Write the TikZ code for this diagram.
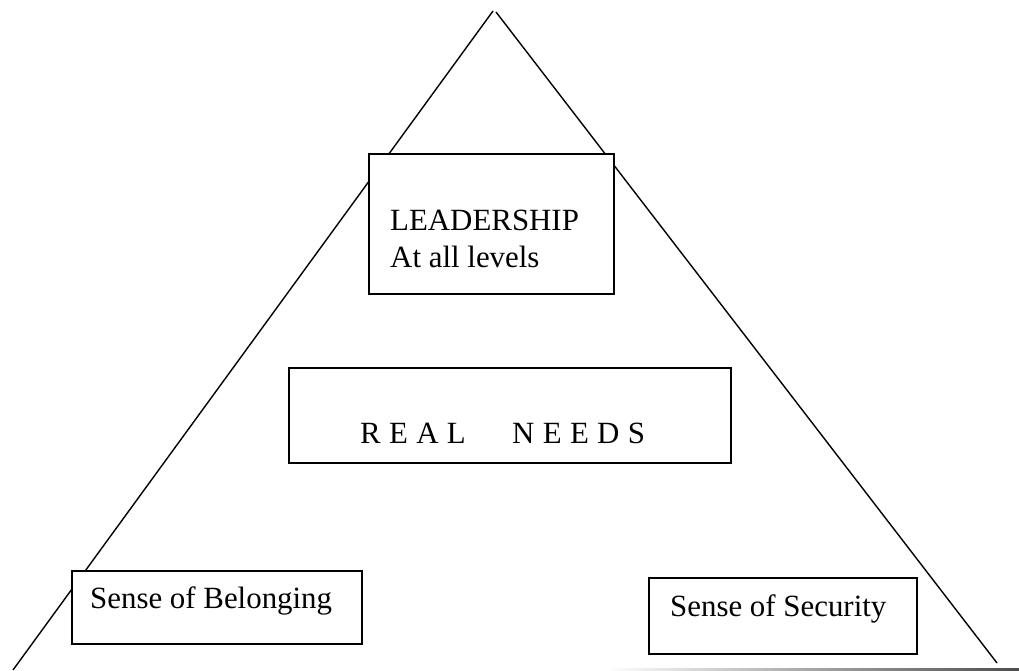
\documentclass[tikz,border=0pt]{standalone}
\usepackage{fontspec}
\setmainfont{Liberation Serif}
\begin{document}
\begin{tikzpicture}[x=1bp,y=-1bp,
  tri/.style={line width=1.4bp},
  box/.style={draw, line width=1.8bp, fill=white, inner sep=0pt},
  lbl/.style={inner sep=0pt, font=\fontsize{31}{37}\selectfont}]
\useasboundingbox (0,0) rectangle (1019,671);
% triangle
\coordinate (apexL) at (493,11);
\coordinate (apexR) at (496,12);
\coordinate (bl) at (13,670);
\coordinate (br) at (997,663);
\draw[tri] (apexL) -- (bl);
\draw[tri] (apexR) -- (br);
\shade[left color=white, right color=black!70] (605,668.5) rectangle (1019,671);
% boxes
\node[box, anchor=north west, minimum width=245bp, minimum height=140bp] (lead) at (368,153) {};
\node[box, anchor=north west, minimum width=442bp, minimum height=95bp] (needs) at (288,367) {};
\node[box, anchor=north west, minimum width=290bp, minimum height=73bp] (belong) at (71,570) {};
\node[box, anchor=north west, minimum width=268bp, minimum height=76bp] (secur) at (648,577) {};
% texts
\node[lbl, anchor=base west] (leadA) at (390,230) {LEADERSHIP};
\node[lbl, anchor=base west] (leadB) at (390,267) {At all levels};
\node[lbl, anchor=base west] (needsT) at (360,443) {R\hspace{0.27em}E\hspace{0.27em}A\hspace{0.27em}L\hspace{1.5em}N\hspace{0.27em}E\hspace{0.27em}E\hspace{0.27em}D\hspace{0.27em}S};
\node[lbl, anchor=base west] (belongT) at (90,608) {Sense of Belonging};
\node[lbl, anchor=base west] (securT) at (670,616) {Sense of Security};
\end{tikzpicture}
\end{document}
